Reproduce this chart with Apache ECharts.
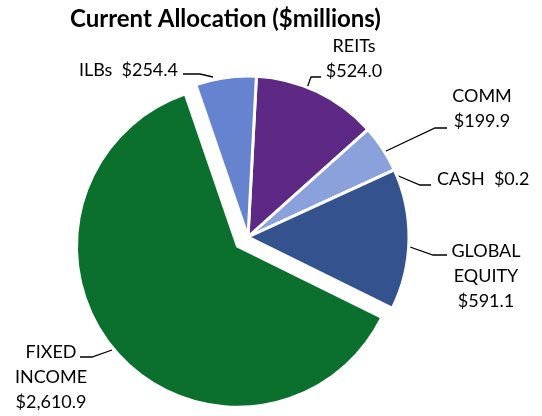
<!DOCTYPE html>
<html>
<head>
<meta charset="utf-8">
<script src="https://cdn.jsdelivr.net/npm/echarts@6/dist/echarts.min.js"></script>
<style>
  html, body { margin: 0; padding: 0; background: #fff; }
  #chart { width: 542px; height: 416px; }
</style>
</head>
<body>
<div id="chart"></div>
<script>
// slices, clockwise from 12 o'clock
const categories = ['REITs', 'COMM', 'CASH', 'GLOBAL EQUITY', 'FIXED INCOME', 'ILBs']
const values = [524.0, 199.9, 0.2, 591.1, 2610.9, 254.4]
const colors = ['#5d2984', '#8aa1dc', '#34528e', '#34528e', '#0b702d', '#6583cf']
const inlineLabels = ['CASH', 'ILBs'] // label sits on one line
const exploded = 'FIXED INCOME'

const center = [248, 237]
const startAngle = 87
const explodeDist = 14

// where each label goes (text anchor + leader line)
const labelSpots = {
  'REITs': { x: 354, y: 59, align: 'center', line: [[306, 91], [311, 77], [321, 77]] },
  'COMM': { x: 482, y: 109, align: 'center', line: [[384, 152], [435, 128], [447, 128]] },
  'CASH': { x: 437, y: 179, align: 'left', line: [[396, 175], [420, 185], [431, 185]] },
  'GLOBAL EQUITY': { x: 486, y: 276, align: 'center', line: [[410, 247], [433, 255], [447, 255]] },
  'FIXED INCOME': { x: 51, y: 377, align: 'center', line: [[112, 350], [92, 357], [80, 357]] },
  'ILBs': { x: 178, y: 70, align: 'right', line: [[213, 77], [200, 74], [183, 74]] }
}

function money(v) {
  return '$' + v.toLocaleString('en-US', { minimumFractionDigits: 1, maximumFractionDigits: 1 })
}

// pull the exploded slice out along its mid angle
const total = values.reduce((a, b) => a + b, 0)
const idx = categories.indexOf(exploded)
const before = values.slice(0, idx).reduce((a, b) => a + b, 0)
const midDeg = startAngle - (before + values[idx] / 2) / total * 360
const midRad = midDeg * Math.PI / 180
const explodedCenter = [
  center[0] + explodeDist * Math.cos(midRad),
  center[1] - explodeDist * Math.sin(midRad)
]

const chart = echarts.init(document.getElementById('chart'))

const common = {
  type: 'pie',
  radius: 161,
  startAngle,
  clockwise: true,
  avoidLabelOverlap: false,
  silent: true
}

chart.setOption({
  animation: false,
  title: {
    text: 'Current Allocation ($millions)',
    left: 65,
    top: 2,
    textStyle: {
      fontFamily: 'Lato',
      fontWeight: 'bold',
      fontSize: 24,
      color: '#000'
    }
  },
  series: [{
    ...common,
    center,
    label: {
      show: true,
      position: 'outside',
      fontFamily: 'Lato',
      fontSize: 18,
      lineHeight: 25,
      color: '#000',
      formatter: p => inlineLabels.includes(p.name)
        ? p.name + '  ' + money(p.value)
        : p.name.replace(' ', '\n') + '\n' + money(p.value)
    },
    labelLine: {
      show: true,
      lineStyle: { color: '#000', width: 1.3 }
    },
    labelLayout: params => {
      const s = labelSpots[categories[params.dataIndex]]
      return {
        x: s.x,
        y: s.y,
        align: s.align,
        verticalAlign: 'middle',
        labelLinePoints: s.line
      }
    },
    data: categories.map((name, i) => ({
      name,
      value: values[i],
      itemStyle: name === exploded
        ? { color: 'rgba(0,0,0,0)', borderWidth: 0 }
        : { color: colors[i], borderColor: '#fff', borderWidth: 3 }
    }))
  }, {
    ...common,
    center: explodedCenter,
    label: { show: false },
    labelLine: { show: false },
    data: categories.map((name, i) => ({
      name,
      value: values[i],
      itemStyle: name === exploded
        ? { color: colors[i], borderColor: '#fff', borderWidth: 3 }
        : { color: 'rgba(0,0,0,0)', borderWidth: 0 }
    }))
  }]
})
</script>
</body>
</html>
